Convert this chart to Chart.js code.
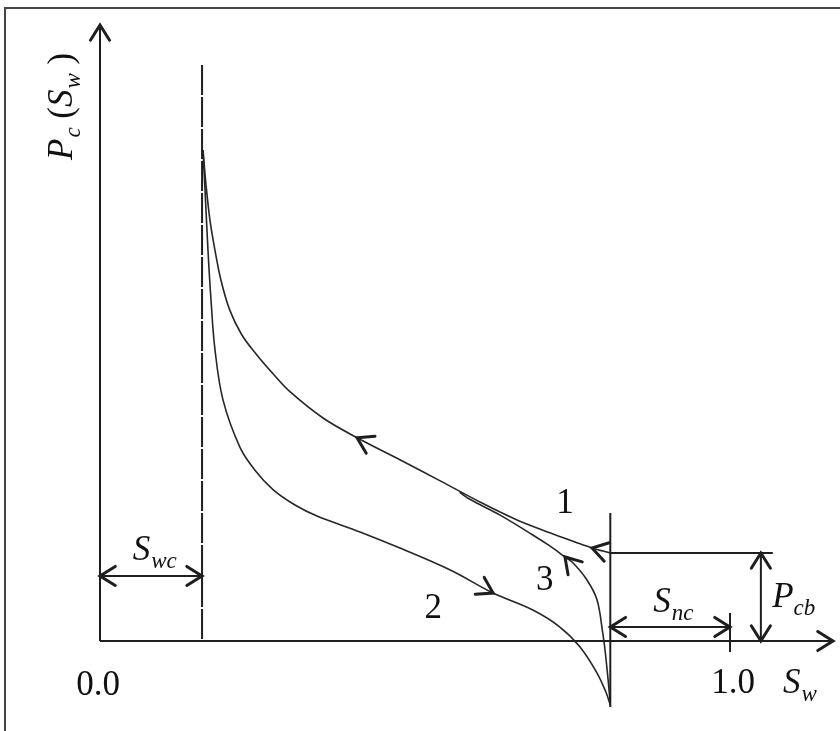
<!DOCTYPE html>
<html>
<head>
<meta charset="utf-8">
<title>Capillary pressure hysteresis</title>
<script src="https://cdn.jsdelivr.net/npm/chart.js@4.4.1/dist/chart.umd.min.js"></script>
<style>
  html, body { margin: 0; padding: 0; background: #fff; }
  #wrap { position: relative; width: 840px; height: 731px; overflow: hidden; }
  #frame {
    position: absolute; left: 4px; top: 7px; right: -10px; bottom: -10px;
    border-top: 2px solid #454545; border-left: 2px solid #454545;
  }
  #pcChart { position: absolute; left: 0; top: 0; }
</style>
</head>
<body>
<div id="wrap">
  <div id="frame"></div>
  <canvas id="pcChart" width="840" height="731"></canvas>
</div>
<script>
// Saturation end points and breakthrough pressure (Pc in units of Pcb)
const swc = 0.162;
const swEnd = 0.81;          // 1 - Snc
const pcb = 1.0;
const pcTop = 7.0;
const swAxisEnd = 1.1635;

// Curve 1: drainage, from Pcb at 1 - Snc up to the irreducible water line
const curve1Sw = [0.81, 0.781, 0.754, 0.714, 0.662, 0.603, 0.540, 0.476, 0.408, 0.354,
                  0.302, 0.275, 0.249, 0.225, 0.206, 0.192, 0.1825, 0.1746, 0.1683, 0.1635];
const curve1Pc = [1.0, 1.057, 1.125, 1.23, 1.375, 1.58, 1.82, 2.06, 2.31, 2.534,
                  2.83, 3.034, 3.25, 3.48, 3.76, 4.10, 4.44, 4.78, 5.18, 5.58];

// Curve 2: imbibition, from the top down to negative Pc at 1 - Snc
const curve2Sw = [0.1635, 0.1667, 0.1714, 0.1762, 0.1825, 0.1952, 0.2222, 0.246, 0.2746, 0.3095,
                  0.3444, 0.4127, 0.476, 0.556, 0.624, 0.687, 0.730, 0.762, 0.789, 0.803, 0.81];
const curve2Pc = [5.58, 5.125, 4.44, 3.875, 3.31, 2.74, 2.20, 1.94, 1.72, 1.545,
                  1.42, 1.24, 1.057, 0.807, 0.545, 0.352, 0.159, -0.068, -0.364, -0.58, -0.727];

// Curve 3: secondary drainage, rising from the bottom and joining curve 1
const curve3Sw = [0.81, 0.808, 0.805, 0.8016, 0.798, 0.789, 0.773, 0.751, 0.738, 0.714,
                  0.687, 0.635, 0.587, 0.571];
const curve3Pc = [-0.727, -0.557, -0.33, -0.102, 0.091, 0.466, 0.693, 0.886, 0.955, 1.08,
                  1.205, 1.43, 1.61, 1.69];

// Direction heads: tip and a point behind it along the line
const arrowTips = [
  [0, pcTop], [swAxisEnd, 0],
  [0.408, 2.31], [0.781, 1.057], [0.624, 0.545], [0.738, 0.955],
  [0, 0.739], [swc, 0.739],
  [swEnd, 0.159], [1.0, 0.159],
  [1.049, pcb], [1.049, 0]
];
const arrowBacks = [
  [0, 6.0], [1.10, 0],
  [0.476, 2.06], [0.81, 1.0], [0.556, 0.807], [0.751, 0.852],
  [0.05, 0.739], [0.11, 0.739],
  [0.86, 0.159], [0.95, 0.159],
  [1.049, 0.8], [1.049, 0.2]
];

// Curve numbers and the two saturation end values
const curveNames = ['1', '2', '3'];
const curveNameSw = [0.738, 0.529, 0.706];
const curveNamePc = [1.455, 0.261, 0.58];
const tickLabels = ['0.0', '1.0'];
const tickLabelSw = [-0.003, 1.005];
const tickLabelPc = [-0.614, -0.59];

const INK = '#1e1e1e';
const CURVE = '#262626';
const SERIF = '"Liberation Serif", "Times New Roman", serif';

function toPoints(xs, ys) {
    return xs.map((x, i) => ({ x: x, y: ys[i] }));
}

function segment(label, points, width, dash) {
    return {
        label: label,
        data: points,
        showLine: true,
        borderColor: INK,
        borderWidth: width,
        borderDash: dash || [],
        pointRadius: 0,
        tension: 0,
        clip: false
    };
}

function curve(label, xs, ys) {
    return {
        label: label,
        data: toPoints(xs, ys),
        showLine: true,
        borderColor: CURVE,
        borderWidth: 1.6,
        pointRadius: 0,
        tension: 0.35,
        clip: false
    };
}

// Writes a run of text pieces, subscripts dropped and smaller
function drawParts(ctx, parts, x, y) {
    let cx = x;
    parts.forEach(p => {
        if (p.sub) {
            ctx.font = 'italic 23px ' + SERIF;
        } else if (p.upright) {
            ctx.font = '35px ' + SERIF;
        } else {
            ctx.font = 'italic 35px ' + SERIF;
        }
        ctx.fillText(p.t, cx, y + (p.sub ? 8 : 0));
        cx += ctx.measureText(p.t).width + (p.gap || 0);
    });
}

const symbolLabels = [
    { parts: [{ t: 'S', gap: 1 }, { t: 'w', sub: true }], sw: 1.084, pc: -0.59 },
    { parts: [{ t: 'S', gap: 1 }, { t: 'wc', sub: true }], sw: 0.052, pc: 0.92 },
    { parts: [{ t: 'S', gap: 1 }, { t: 'nc', sub: true }], sw: 0.878, pc: 0.33 },
    { parts: [{ t: 'P', gap: 0 }, { t: 'cb', sub: true }], sw: 1.067, pc: 0.386 }
];

const pcTitle = [
    { t: 'P', gap: 1 }, { t: 'c', sub: true }, { t: ' (', upright: true },
    { t: 'S', gap: 1 }, { t: 'w', sub: true }, { t: ' )', upright: true }
];

const annotations = {
    id: 'annotations',
    afterDatasetsDraw(chart) {
        const ctx = chart.ctx;
        const xs = chart.scales.x;
        const ys = chart.scales.y;

        // arrow heads, drawn as open chevrons
        ctx.save();
        ctx.strokeStyle = INK;
        ctx.lineWidth = 3;
        ctx.lineCap = 'round';
        ctx.lineJoin = 'miter';
        arrowTips.forEach((tip, i) => {
            const tx = xs.getPixelForValue(tip[0]);
            const ty = ys.getPixelForValue(tip[1]);
            const bx = xs.getPixelForValue(arrowBacks[i][0]);
            const by = ys.getPixelForValue(arrowBacks[i][1]);
            const a = Math.atan2(by - ty, bx - tx);
            const spread = 0.56;
            const len = 18;
            ctx.beginPath();
            ctx.moveTo(tx + len * Math.cos(a - spread), ty + len * Math.sin(a - spread));
            ctx.lineTo(tx, ty);
            ctx.lineTo(tx + len * Math.cos(a + spread), ty + len * Math.sin(a + spread));
            ctx.stroke();
        });
        ctx.restore();

        ctx.save();
        ctx.fillStyle = '#111';
        ctx.textBaseline = 'alphabetic';

        ctx.font = '35px ' + SERIF;
        ctx.textAlign = 'center';
        curveNames.forEach((t, i) => {
            ctx.fillText(t, xs.getPixelForValue(curveNameSw[i]), ys.getPixelForValue(curveNamePc[i]));
        });
        tickLabels.forEach((t, i) => {
            ctx.fillText(t, xs.getPixelForValue(tickLabelSw[i]), ys.getPixelForValue(tickLabelPc[i]));
        });

        ctx.textAlign = 'left';
        symbolLabels.forEach(l => {
            drawParts(ctx, l.parts, xs.getPixelForValue(l.sw), ys.getPixelForValue(l.pc));
        });

        // vertical axis title, reading upwards
        ctx.translate(xs.getPixelForValue(-0.0444), ys.getPixelForValue(5.466));
        ctx.rotate(-Math.PI / 2);
        drawParts(ctx, pcTitle, 0, 0);
        ctx.restore();
    }
};

const datasets = [
    segment('Pc axis', [{ x: 0, y: 0 }, { x: 0, y: pcTop }], 2),
    segment('Sw axis', [{ x: 0, y: 0 }, { x: swAxisEnd, y: 0 }], 2),
    segment('Swc line', [{ x: swc, y: 6.545 }, { x: swc, y: 0 }], 2, [30, 2]),
    segment('1 - Snc line', [{ x: swEnd, y: 1.455 }, { x: swEnd, y: -0.75 }], 2),
    segment('Pcb line', [{ x: swEnd, y: pcb }, { x: 1.068, y: pcb }], 2),
    segment('Swc span', [{ x: 0, y: 0.739 }, { x: swc, y: 0.739 }], 2),
    segment('Snc span', [{ x: swEnd, y: 0.159 }, { x: 1.0, y: 0.159 }], 2),
    segment('Sw = 1 tick', [{ x: 1.0, y: 0.318 }, { x: 1.0, y: -0.125 }], 2),
    segment('Pcb span', [{ x: 1.049, y: 0 }, { x: 1.049, y: pcb }], 2),
    curve('1', curve1Sw, curve1Pc),
    curve('2', curve2Sw, curve2Pc),
    curve('3', curve3Sw, curve3Pc)
];

new Chart(document.getElementById('pcChart'), {
    type: 'scatter',
    data: { datasets: datasets },
    options: {
        responsive: false,
        animation: false,
        devicePixelRatio: 1,
        events: [],
        layout: { padding: { left: 100, right: 2.9, top: 25, bottom: 24 } },
        plugins: {
            legend: { display: false },
            tooltip: { enabled: false }
        },
        scales: {
            x: { type: 'linear', min: 0, max: 1.17, display: false },
            y: { type: 'linear', min: -0.75, max: 7.0, display: false }
        }
    },
    plugins: [annotations]
});
</script>
</body>
</html>
